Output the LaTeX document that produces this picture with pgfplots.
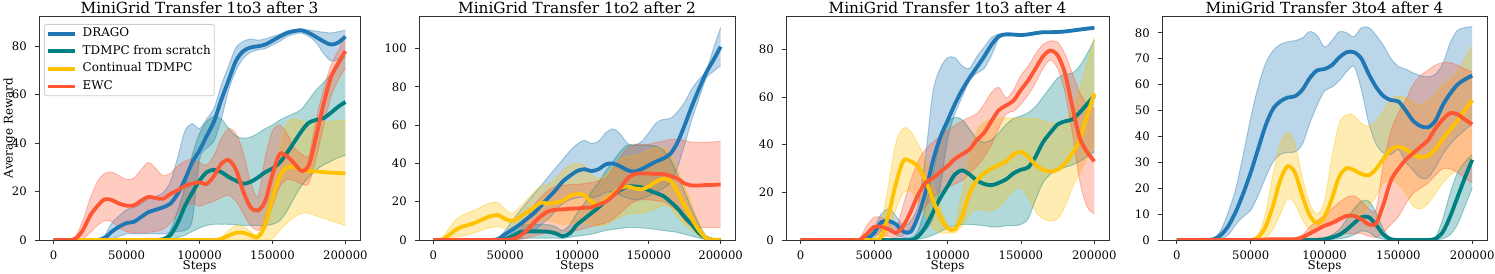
\documentclass[border=0pt]{standalone}
\usepackage{fontspec}
\setmainfont{DejaVu Serif}
\usepackage{pgfplots}
\pgfplotsset{compat=1.18}
\usepackage{pgfplotstable}
\usepgfplotslibrary{fillbetween}

\definecolor{cD}{RGB}{31,119,180}
\definecolor{cT}{RGB}{0,128,128}
\definecolor{cC}{RGB}{255,193,0}
\definecolor{cE}{RGB}{255,87,51}

\pgfplotstableread{
x dm dl dh tm tl th cm cl ch em el eh
0 0 0 0 0 0 0 0 0 0 0 0 0
5 0 0 0 0 0 0 0 0 0 0 0 0
10 0 0 0 0 0 0 0 0 0 0 0 0
15 0 0 0 0 0 0 0 0 0 0.5 0 1.5
20 0 0 0 0 0 0 0 0 0 4 0.5 8
25 0 0 0 0 0 0 0 0 0 10 3 17
30 0 0 0.3 0 0 0 0 0 0 14 6 24
35 0.8 0 2 0 0 0 0 0 0 16.8 8 27.5
40 3.5 0.5 7 0 0 0 0 0 0 16.5 7.5 28
45 5.5 1.5 10 0 0 0 0 0 0 15 5 26.5
50 7 2.5 12.5 0 0 0 0 0 0 14.2 3.5 25
55 7.5 2.5 13.5 0 0 0 0 0 0 14.3 3 25.5
60 9.5 2.5 15 0 0 0 0 0 0 16.2 3 29
65 11.5 2.5 17 0 0 0 0 0 0 17.8 3.2 32
70 12.5 2.5 18 0 0 0 0 0 0 17.3 3.5 29.5
75 13.5 2.5 19.5 0.3 0 0.5 0 0 0 17 4.5 26.5
80 15 3 24 2 0.2 4 0 0 0 19 7 27.5
85 19 3.5 34 7 1 12 0 0 0 20.5 11 30.5
90 25 4 45 14 2 22 0 0 0 22.3 14 32.5
95 32 8 48 19.5 3.5 35 0 0 0 23.3 15 33.5
100 37 33 46 24.5 5 44 0 0 0 23.8 14 32
105 43 38 50 28 6 49 0 0 0 23.2 15 31
110 49 41 54.5 29 6.5 51 0 0 0 26.5 16 35
115 58 50 64 28 6.5 50 0.5 0 1 31.5 17.5 42
120 66 62 72 26 6.5 46 1.8 0 4 33 18.5 46
125 74 70 79.5 24.5 6.3 43 3 0 6 29 16 44
130 78 75 82 23.2 6 42 3 0 5.5 20 11 36
135 79.5 77.5 83 24 6 42.5 2 0 3.5 13.5 6 24
140 80 78.5 82.5 25.8 6 44 1.2 0 2.5 12.2 4 18
145 80.7 79 83 28 6 46 6 0 12 16 7 34
150 82.3 80.5 84 29.5 6.5 47.5 17 0.5 22 27 14 45
155 84 82 85 32 8 49.5 26 4 38 35.5 22 47.5
160 85.5 84 86.3 36 12 51 30 7 48 34.5 25 44
165 86.3 85 86.8 40.5 17.5 52.3 30 9.5 50 31.6 24.5 38
170 86.6 85.5 87 45 22.5 54 28.8 11 49 28.5 23 35.5
175 85.5 84 86.7 48.5 26 58 28.5 11 48.5 31 23.5 35
180 83.8 81.5 86.2 49.6 29 62 28.3 10 48.5 43 34 50
185 82 77 85.8 50.3 31 65 28 9 48.5 56 47 62
190 80.7 74 85.5 52.5 32.5 68.5 27.8 8 49 67 59 72
195 81.5 74.5 86 55 34 72 27.7 7 49.3 73 66 78
200 84 77 86.6 57 35 76 27.5 6 49.5 78 71 84
}\tA

\pgfplotstableread{
x dm dl dh tm tl th cm cl ch em el eh
0 0 0 0 0 0 0 0 0 0 0 0 0
5 0 0 0 0 0 0 0 0 0 0 0 0
10 0 0 0 0 0 0 2 0.5 5 0 0 0
15 0 0 0 0 0 0 5 1.5 10 0 0 0
20 0 0 0 0 0 0 7 2 13 0 0 0
25 0 0 0 0 0 0 8 3 14.5 0 0 0
30 0 0 0 0 0 0 9.3 4 16 0 0 0
35 0 0 0 0 0 0 11 5.5 18 0 0 0
40 0 0 0 0 0 0 12.5 6.5 19.5 0 0 0
45 0.5 0 1 0 0 0 13 7 19.5 0 0 0
50 3 0.5 5 0.5 0 1 11 6 16 0 0 0
55 5.5 1 10 2 0 4 10 5.5 14 0.5 0 1
60 8 2 15 4 0.5 7 12 7 17 2 0.3 5
65 11 3.5 19.5 4.5 1 8 14.5 8 21 5 1 11
70 14 5 24 4.5 1 8 17 9 25 9 2 18
75 18 8 28.5 4.5 1 8 19.5 10 28 12.5 3 22.5
80 22 11 33 4.3 1 8 19 10 29 15 4 26
85 26 15 37.5 3.5 1 7 19.5 9 32 15.8 4 28
90 30.5 19 42 2 0.8 5 20.5 8 36 16 4 28.5
95 33.5 21 46.5 3.5 1.5 8 23 8.5 39 16.3 4.5 29
100 36 22 50 8 2 14 24 9 40 16.5 5 29
105 37 22.5 52 11 2.5 19 23.5 9 39 16.8 6 29.5
110 36 22 50.5 14 3 25 20 8 34 17 7 30
115 37 23 51.5 17 4 30 18.5 7.5 32 18.5 8 31
120 39.5 25 56 20.5 5 36 21 8 34 20 9 32
125 40 25 58 23.5 5.5 41 24 10 38 23 11 37
130 38.5 23.5 55.5 26 6 46 27 12 42 27 14 43
135 36.5 22 50.5 28 6.5 49.5 28 13.5 43.5 32 17.5 48
140 35.7 21 49.5 28 6.5 49.5 27 14 44 34.5 20 50
145 37 21.5 51.5 27.5 6.3 49.5 26.5 14 45 34.7 21 50
150 39 23 56 26 6 49.5 28 15 47 34.7 21 50
155 41 25 61 24.5 5.5 49 30.5 16.5 48 34.5 20.5 51
160 42.5 27 63 23 5 47 32 18 48 34.5 20 51.5
165 45 30 63.5 20 4.5 42 31 17 45 33.5 18 52.5
170 51 38 67 16.5 4 34 25 12 37 32 15 52.5
175 60 50 72 12 3 25 18 8 28 29.5 10 52
180 70 63 79 8 2 16 11 5 19 28.5 7 51
185 79 74 84 3.5 1 8 5 2 9 28.5 6.5 51
190 87.5 84.5 88.5 1 0.3 2 1 0.3 2 28.7 6.5 51
195 94 88 100 0 0 0.8 0 0 1 28.8 6.5 51.3
200 101 91 111 0 0 0.8 0 0 1 29 6.5 51.5
}\tB

\pgfplotstableread{
x dm dl dh tm tl th cm cl ch em el eh
0 0 0 0 0 0 0 0 0 0 0 0 0
5 0 0 0 0 0 0 0 0 0 0 0 0
10 0 0 0 0 0 0 0 0 0 0 0 0
15 0 0 0 0 0 0 0 0 0 0 0 0
20 0 0 0 0 0 0 0 0 0 0 0 0
25 0 0 0 0 0 0 0 0 0 0 0 0
30 0 0 0 0 0 0 0 0 0 0 0 0
35 0 0 0 0 0 0 0 0 0 0 0 0
40 0 0 0 0 0 0 0 0 0 0 0 0.5
45 0.5 0 0.5 0 0 0 0 0 0 2.5 0.5 6
50 3 1 5 0 0 0 0 0 0 5.5 2 9.5
55 7.5 4 11 0 0 0 1.5 0 7 5.5 2 9.5
60 8 4 13 0 0 0 11 3 24 4.5 1.5 7.5
65 6.5 2 10 0 0 0 24 13 41 3 1 5
70 3.5 1 6 0 0 0 33.3 20 47 6 2 15
75 3.5 1 8 0 0 0 33 20.5 45.5 12 5 25
80 10 3 15 1.5 0.3 4 30.8 16 40 19 10 33
85 20 4 35 5.5 1 14 25 10 34 24 14 38
90 33 9 62 11.5 2 28 17 5 24 26 18 41
95 43 22 72 17.5 3.5 41 9.5 3 14 28.5 20 43.5
100 50 42 76.5 22.5 5 49 5 3 6.5 31 22 46
105 57 53 76.5 27.5 6 51.5 4.5 3 6 34 23.5 48
110 63 60 73 29.2 6.5 50.5 10 6 20 36 25 50
115 68 67 72 27.5 6.5 46.5 19.5 11 36 38 28 51.5
120 72.5 70 77 25 6.3 42.5 25 13 46 42 31 53
125 77 72 81 23.5 6 41 28 12.5 49.5 45 35 57
130 82 77.5 85 23 5.5 42 30 12.5 50.5 50 40 62
135 85.5 84.5 86.5 24 5.5 45 31.5 14 51 54.5 47 64
140 86.3 85.8 86.8 25.5 6 48.5 33 17.5 51.3 56.5 53 59.5
145 86.2 85.7 86.7 28 6 51 36 21 51.2 58.5 54 63
150 86 85.5 86.5 29.5 6.5 52 37 22 51 63 57 69
155 86.3 85.8 86.8 30.5 9 53.5 35 18 51 67 61 73
160 86.8 86.3 87.3 35 17 56 31.5 12 51 72 66 78
165 87.2 86.7 87.7 41 24 60 29.5 9 50 77 72 82
170 87.2 86.7 87.7 45 27.5 64 28.7 8 49 79.5 75.5 83.5
175 87.3 86.8 87.8 48.5 29.5 68 29.5 9 49 77.5 72 83
180 87.5 87 88 49.8 30.5 69.5 32 14 50 70 62 78
185 87.9 87.4 88.4 50.6 31.5 70 36.5 22 55 56 45 70
190 88.3 87.8 88.8 53.5 33 73 42 28 63 43 25 62
195 88.7 88.2 89.2 57 35 78 52 34 74 37 14 57
200 89 88.5 89.5 60.5 37 84 61.5 40 85 33 11 55
}\tC

\pgfplotstableread{
x dm dl dh tm tl th cm cl ch em el eh
0 0 0 0 0 0 0 0 0 0 0 0 0
5 0 0 0 0 0 0 0 0 0 0 0 0
10 0 0 0 0 0 0 0 0 0 0 0 0
15 0 0 0 0 0 0 0 0 0 0 0 0
20 0 0 0 0 0 0 0 0 0 0 0 0
25 0.3 0 0.5 0 0 0 0 0 0 0 0 0
30 2 0.5 4 0 0 0 0 0 0 0 0 0
35 5.5 2 11 0 0 0 0 0 0 0 0 0
40 11 6 20 0 0 0 0 0 0 0 0 0
45 18 9 33 0 0 0 0 0 0 0 0 0
50 26 11.5 47 0 0 0 0 0 0 0 0 0
55 35 17 59 0 0 0 1 0 2 0 0 0
60 44 24 68 0 0 0 5 1 10 0.2 0 0.5
65 50.5 30 73 0 0 0 13 4 25 0.3 0 0.7
70 53.5 33 75.5 0 0 0 23 10 37 0.3 0 0.7
75 55 33.8 76.5 0 0 0 28.5 16 41.5 0.3 0 0.7
80 55.5 34 77 0 0 0 26 14 37 0.3 0 0.7
85 58 37 78 0 0 0 17 8 24 1 0.2 2
90 62.5 45 80.5 0 0 0 9.5 4 14 2.5 0.5 5
95 65.5 52 79 0 0 0 6.5 4.5 10 4 0.8 7.5
100 66 57.5 74.5 0.3 0 0.5 9 5 15 5.5 1 9.5
105 67.5 59 77 1 0.2 2 16 6 32 6.5 1.5 12
110 70.5 61.5 80.5 2 0.5 4 24.5 8.5 45 8 2 14.5
115 72.5 65 80 4 1 8 27.7 10 48.5 9.3 2.5 16.5
120 72.5 67 78.5 6.5 2 12 27 9 48 9.3 2.5 17
125 70 58 82 8.8 3.5 15 25.5 10 45 8 2.5 15
130 64 45 82 8.8 3 15 25 13 44 6 1.5 12
135 59 37 79 5.8 1 10.5 27.5 17 46 6.5 1 12
140 55.5 33.5 75 2 0.3 4 31.5 22 50 14 3 30
145 54 33 70 0.3 0 0.5 35 23 54.5 23 6 42
150 53.5 35 67 0 0 0 36 21.5 55.5 27.5 9 49
155 50 30 66 0 0 0 35 18 55 31 14 54
160 46 27 64.5 0 0 0 33 13 53 33.5 18 60
165 44 24 63.5 0 0 0 32 12 52 36 20 63.5
170 43.5 24 63 0 0 0 32.5 14 54 38.5 22 65.5
175 46 28 64 0.5 0 1 35 18 56 43 25 67.5
180 52 33 68 3 0.5 8 39 22 60 46.5 27.5 68.5
185 56.5 37 76 9 2 18 42.5 25 62 49 27.5 68.5
190 60 40 81 16.5 6 26 46 27 65 48.5 26 67.5
195 62 42.5 82 24 13 30 50 29.5 70 46.5 24 66
200 63.5 45 82.4 31 20 33 54 32 75 44.7 22 65
}\tD

\newcommand\band[4]{%
  \addplot[smooth, draw=#4, draw opacity=0.35, line width=1bp, name path=#2#3lo, forget plot] table[x expr=\thisrow{x}*1000, y=#3l] {#1};
  \addplot[smooth, draw=#4, draw opacity=0.35, line width=1bp, name path=#2#3hi, forget plot] table[x expr=\thisrow{x}*1000, y=#3h] {#1};
  \addplot[fill=#4, fill opacity=0.3, draw=none, forget plot] fill between[of=#2#3lo and #2#3hi];
}
\newcommand\mean[3]{%
  \addplot[smooth, draw=#3, line width=3.8bp] table[x expr=\thisrow{x}*1000, y=#2m] {#1};
}
\newcommand\panel[2]{%
  \band{#1}{#2}{d}{cD}\band{#1}{#2}{t}{cT}\band{#1}{#2}{c}{cC}\band{#1}{#2}{e}{cE}%
  \mean{#1}{d}{cD}\mean{#1}{t}{cT}\mean{#1}{c}{cC}\mean{#1}{e}{cE}%
}
\newcommand\ttl[1]{\fontsize{15.4}{18}\selectfont #1}
\newcommand\lbl[1]{\fontsize{12}{14}\selectfont #1}

\pgfplotsset{
  every axis title shift=0pt,
  base/.style={
    scale only axis, height=224bp, anchor=south west,
    xmin=-10000, xmax=210000, ymin=0,
    xtick={0,50000,100000,150000,200000},
    xticklabels={0,50000,100000,150000,200000},
    tick align=outside, xtick pos=bottom, ytick pos=left,
    major tick length=4bp,
    tick style={black!80, line width=0.8bp},
    axis line style={black!80, line width=0.8bp},
    tick label style={font=\fontsize{11.7}{14}\selectfont, /pgf/number format/assume math mode=true},
    xticklabel style={anchor=base, yshift=-15.7bp, inner sep=0pt},
    yticklabel style={anchor=east, xshift=-8bp, inner sep=0pt},
    title style={at={(axis description cs:0.5,1)}, anchor=base, yshift=2.5bp, inner sep=0pt},
    xlabel={\lbl{Steps}},
    xlabel style={at={(axis description cs:0.5,0)}, anchor=base, yshift=-29bp, inner sep=0pt},
  },
}

\begin{document}
\begin{tikzpicture}

\begin{axis}[base, at={(39bp,34bp)}, width=321bp, ymax=92.5,
  ytick={0,20,40,60,80},
  title={\ttl{MiniGrid Transfer 1to3 after 3}},
  legend style={at={(0,1)}, anchor=north west, xshift=5bp, yshift=-8bp,
    draw=black!20, line width=0.8bp, rounded corners=2.5bp, fill=white, fill opacity=0.8, text opacity=1,
    font=\fontsize{12}{14}\selectfont, inner xsep=1.5bp, inner ysep=0.5bp, row sep=0bp,
    nodes={inner xsep=2bp, inner ysep=3.3bp, text height=8.5bp, text depth=2.5bp}},
  legend cell align=left,
  legend image code/.code={\draw[#1] (0bp,0bp) -- (27bp,0bp); \path (31bp,0bp);},
]
\panel{\tA}{A}
\legend{DRAGO, TDMPC from scratch, Continual TDMPC, EWC}
\end{axis}
\node[rotate=90, anchor=base, inner sep=0pt, font=\fontsize{12}{14}\selectfont] at (12.5bp,146bp) {Average Reward};

\begin{axis}[base, at={(419bp,34bp)}, width=316bp, ymax=117,
  ytick={0,20,40,60,80,100},
  title={\ttl{MiniGrid Transfer 1to2 after 2}}]
\panel{\tB}{B}
\end{axis}

\begin{axis}[base, at={(786bp,34bp)}, width=323bp, ymax=94,
  ytick={0,20,40,60,80},
  title={\ttl{MiniGrid Transfer 1to3 after 4}}]
\panel{\tC}{C}
\end{axis}

\begin{axis}[base, at={(1162bp,34bp)}, width=325bp, ymax=86.5,
  ytick={0,10,20,30,40,50,60,70,80},
  title={\ttl{MiniGrid Transfer 3to4 after 4}}]
\panel{\tD}{D}
\end{axis}

\pgfresetboundingbox
\useasboundingbox (0,0) rectangle (1495bp,274bp);
\end{tikzpicture}
\end{document}
